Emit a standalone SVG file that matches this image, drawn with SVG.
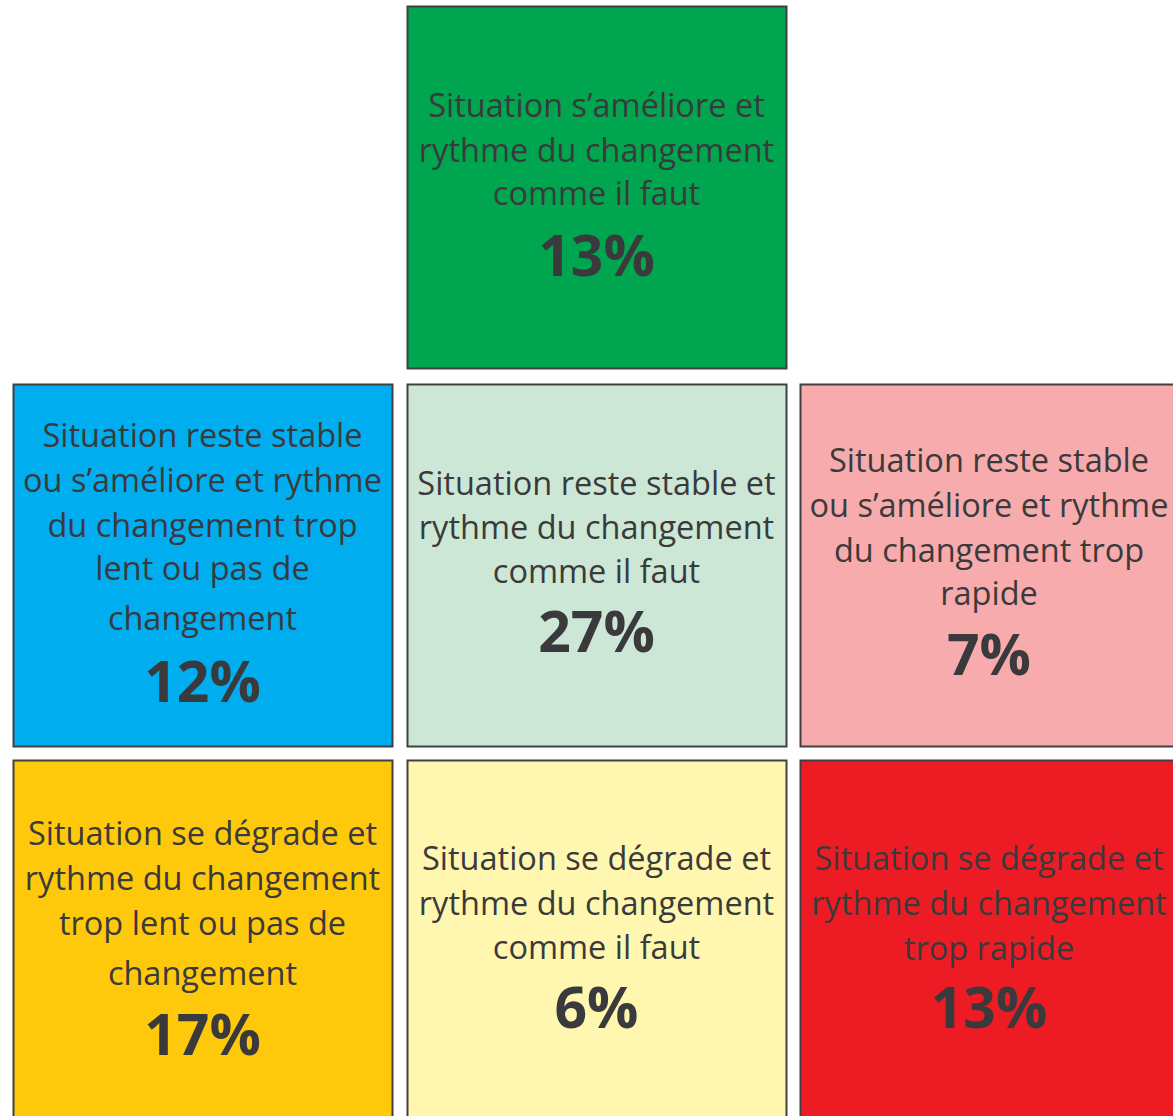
<svg xmlns="http://www.w3.org/2000/svg" width="1173" height="1116" viewBox="0 0 1173 1116">
<style>
rect.box{stroke:#404041;stroke-width:2}
text{font-family:"Open Sans","Liberation Sans",sans-serif;fill:#3a3a3c;text-anchor:middle}
.t{font-size:32.5px}
.p{font-size:57px;font-weight:bold}
</style>
<rect width="1173" height="1116" fill="#ffffff"/>
<g id="n-top">
<rect class="box" x="407.5" y="6.5" width="379" height="362" fill="#00a54f"/>
<text class="t" x="596.5" y="117">Situation s’améliore et</text>
<text class="t" x="596.5" y="162">rythme du changement</text>
<text class="t" x="596.5" y="205">comme il faut</text>
<text class="p" x="596.5" y="276">13%</text>
</g>
<g id="n-blue">
<rect class="box" x="13.5" y="384.5" width="379" height="362" fill="#00aeef"/>
<text class="t" x="202.5" y="447">Situation reste stable</text>
<text class="t" x="202.5" y="492">ou s’améliore et rythme</text>
<text class="t" x="202.5" y="537">du changement trop</text>
<text class="t" x="202.5" y="580">lent ou pas de</text>
<text class="t" x="202.5" y="630">changement</text>
<text class="p" x="202.5" y="702">12%</text>
</g>
<g id="n-palegreen">
<rect class="box" x="407.5" y="384.5" width="379" height="362" fill="#cce7d6"/>
<text class="t" x="596.5" y="495">Situation reste stable et</text>
<text class="t" x="596.5" y="539">rythme du changement</text>
<text class="t" x="596.5" y="583">comme il faut</text>
<text class="p" x="596.5" y="652">27%</text>
</g>
<g id="n-pink">
<rect class="box" x="800.5" y="384.5" width="379" height="362" fill="#f7abad"/>
<text class="t" x="989" y="472">Situation reste stable</text>
<text class="t" x="989" y="517">ou s’améliore et rythme</text>
<text class="t" x="989" y="562">du changement trop</text>
<text class="t" x="989" y="605">rapide</text>
<text class="p" x="989" y="675">7%</text>
</g>
<g id="n-orange">
<rect class="box" x="13.5" y="760.5" width="379" height="362" fill="#ffc90b"/>
<text class="t" x="202.5" y="845">Situation se dégrade et</text>
<text class="t" x="202.5" y="890">rythme du changement</text>
<text class="t" x="202.5" y="935">trop lent ou pas de</text>
<text class="t" x="202.5" y="985">changement</text>
<text class="p" x="202.5" y="1055">17%</text>
</g>
<g id="n-yellow">
<rect class="box" x="407.5" y="760.5" width="379" height="362" fill="#fff6b0"/>
<text class="t" x="596.5" y="870">Situation se dégrade et</text>
<text class="t" x="596.5" y="915">rythme du changement</text>
<text class="t" x="596.5" y="959">comme il faut</text>
<text class="p" x="596.5" y="1028">6%</text>
</g>
<g id="n-red">
<rect class="box" x="800.5" y="760.5" width="379" height="362" fill="#ed1c24"/>
<text class="t" x="989" y="870">Situation se dégrade et</text>
<text class="t" x="989" y="915">rythme du changement</text>
<text class="t" x="989" y="960">trop rapide</text>
<text class="p" x="989" y="1028">13%</text>
</g>
<g id="connectors"></g>
</svg>
